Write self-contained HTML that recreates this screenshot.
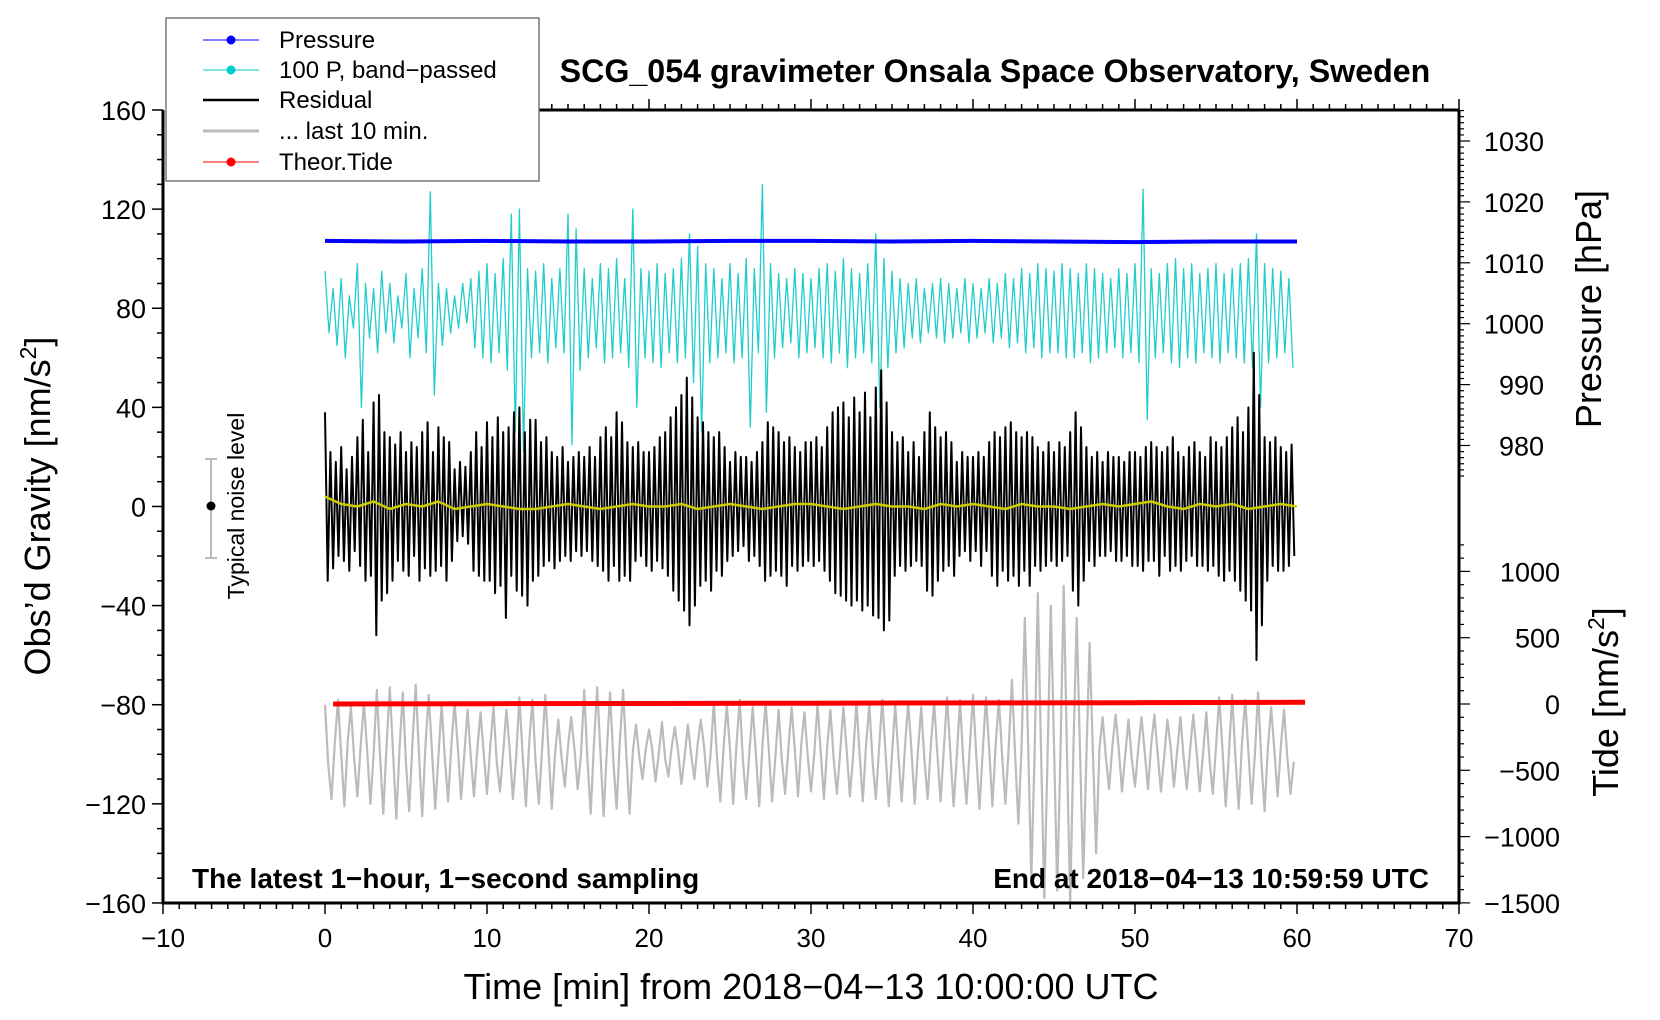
<!DOCTYPE html>
<html><head><meta charset="utf-8"><style>
html,body{margin:0;padding:0;background:#fff;}
svg{display:block;font-family:"Liberation Sans",sans-serif;}
</style></head><body>
<svg id="chart" width="1660" height="1020" viewBox="0 0 1660 1020" xmlns="http://www.w3.org/2000/svg">
<defs><clipPath id="plotclip"><rect x="163" y="110" width="1296" height="793"/></clipPath></defs>
<rect width="1660" height="1020" fill="#fff"/>
<g id="series" clip-path="url(#plotclip)"></g>
<g id="axes"></g>
<text x="995" y="82" font-size="32.2" font-weight="bold" text-anchor="middle">SCG_054 gravimeter Onsala Space Observatory, Sweden</text>
<text x="192" y="888" font-size="28" font-weight="bold">The latest 1−hour, 1−second sampling</text>
<text x="1429" y="888" font-size="28" font-weight="bold" text-anchor="end">End at 2018−04−13 10:59:59 UTC</text>
<text x="811" y="999" font-size="36" text-anchor="middle">Time [min] from 2018−04−13 10:00:00 UTC</text>
<text transform="translate(50,506) rotate(-90)" font-size="36" text-anchor="middle">Obs’d Gravity [nm/s<tspan dy="-14" font-size="23">2</tspan><tspan dy="14">]</tspan></text>
<text transform="translate(1601,309) rotate(-90)" font-size="36" text-anchor="middle">Pressure [hPa]</text>
<text transform="translate(1618,702) rotate(-90)" font-size="36" text-anchor="middle">Tide [nm/s<tspan dy="-14" font-size="23">2</tspan><tspan dy="14">]</tspan></text>
<g>
<line x1="211" y1="459" x2="211" y2="558" stroke="#bbb" stroke-width="2"/>
<line x1="205" y1="459" x2="217" y2="459" stroke="#bbb" stroke-width="2"/>
<line x1="205" y1="558" x2="217" y2="558" stroke="#bbb" stroke-width="2"/>
<circle cx="211" cy="506" r="4.5" fill="#000"/>
<text transform="translate(244,506) rotate(-90)" font-size="23" text-anchor="middle">Typical noise level</text>
</g>
<g>
<rect x="166" y="18" width="373" height="163" fill="#fff" stroke="#777" stroke-width="1.5"/>
<g><line x1="203" y1="40" x2="259" y2="40" stroke="#00f" stroke-width="1"/><circle cx="231" cy="40" r="4.5" fill="#00f"/><text x="279" y="48" font-size="24">Pressure</text></g>
<g><line x1="203" y1="70" x2="259" y2="70" stroke="#0cc" stroke-width="1"/><circle cx="231" cy="70" r="4.5" fill="#0cc"/><text x="279" y="78" font-size="24">100 P, band−passed</text></g>
<g><line x1="203" y1="100" x2="259" y2="100" stroke="#000" stroke-width="2.5"/><text x="279" y="108" font-size="24">Residual</text></g>
<g><line x1="203" y1="131" x2="259" y2="131" stroke="#bbb" stroke-width="3"/><text x="279" y="139" font-size="24">... last 10 min.</text></g>
<g><line x1="203" y1="162" x2="259" y2="162" stroke="#f00" stroke-width="1"/><circle cx="231" cy="162" r="4.5" fill="#f00"/><text x="279" y="170" font-size="24">Theor.Tide</text></g>
</g>
</svg>
<script>
// ---- data ----
const xTicks = [-10,0,10,20,30,40,50,60,70];
const gTicks = [160,120,80,40,0,-40,-80,-120,-160];
const gTickLabels = ["160","120","80","40","0","−40","−80","−120","−160"];
const pTicks = [1030,1020,1010,1000,990,980];
const tTicks = [1000,500,0,-500,-1000,-1500];
const tTickLabels = ["1000","500","0","−500","−1000","−1500"];
const residualStep = 1/6;
const residual = [38,-30,22,-25,18,-20,24,-22,15,-26,20,-18,28,-24,35,-30,22,-28,42,-52,45,-38,30,-35,28,-30,25,-22,30,-26,22,-28,26,-20,24,-30,30,-25,34,-28,22,-26,32,-24,28,-30,26,-22,15,-14,18,-12,16,-15,22,-26,30,-28,24,-30,34,-30,28,-35,36,-32,30,-45,32,-28,38,-34,40,-36,30,-40,35,-30,35,-28,26,-24,28,-22,22,-25,20,-22,24,-20,18,-22,20,-18,22,-20,20,-18,24,-22,20,-24,28,-26,32,-30,28,-24,38,-30,34,-28,26,-30,24,-22,26,-20,22,-24,22,-26,24,-22,28,-25,30,-28,36,-34,40,-38,45,-42,52,-48,44,-40,36,-32,34,-30,30,-34,28,-26,30,-28,24,-22,18,-20,22,-18,20,-16,20,-22,18,-20,22,-24,26,-30,34,-28,32,-26,30,-28,26,-32,28,-24,24,-26,22,-24,26,-22,26,-24,28,-22,24,-26,32,-30,38,-35,40,-36,42,-38,36,-40,44,-38,38,-42,46,-40,36,-44,48,-45,55,-50,42,-46,30,-28,26,-24,28,-26,22,-24,26,-22,20,-24,30,-34,38,-36,32,-30,28,-26,30,-24,26,-28,18,-20,22,-18,20,-22,20,-18,22,-24,20,-18,26,-28,30,-32,28,-26,32,-30,34,-28,30,-32,28,-26,30,-32,28,-24,24,-26,22,-24,26,-22,22,-24,26,-22,24,-20,30,-34,38,-40,32,-30,24,-22,20,-24,22,-20,18,-20,22,-18,20,-22,20,-22,18,-20,22,-24,22,-24,20,-26,24,-22,26,-22,24,-28,22,-20,24,-26,28,-24,22,-26,20,-22,24,-20,26,-24,22,-24,20,-26,28,-24,26,-28,24,-30,28,-26,32,-30,36,-34,30,-38,40,-42,62,-62,45,-48,28,-30,26,-24,28,-26,24,-26,22,-24,25,-20];
const bandStep = 0.25;
const bandPassed = [95,70,88,65,92,60,85,72,98,40,90,68,88,62,95,70,90,66,85,72,94,60,88,68,96,62,127,45,90,65,88,70,85,72,90,74,92,64,95,60,98,58,94,62,100,55,118,30,120,22,96,60,95,62,98,58,92,64,96,62,118,25,112,55,96,60,92,64,98,58,96,60,100,62,92,56,120,40,96,60,95,58,98,56,94,62,96,58,100,60,110,50,105,30,98,58,96,60,92,62,98,58,94,60,100,32,96,62,130,38,98,60,94,64,92,66,96,60,94,62,92,64,96,60,98,58,95,62,100,56,96,60,94,62,98,58,110,40,100,56,95,62,92,64,90,68,92,66,88,70,90,68,92,66,90,68,88,70,92,66,90,68,88,70,92,66,90,68,94,64,92,66,96,62,94,64,98,60,96,62,95,62,98,60,96,60,94,62,98,58,96,60,94,62,92,64,96,60,94,62,98,58,128,35,96,60,94,62,98,58,100,56,96,60,98,58,94,62,96,60,98,58,94,62,96,60,98,58,100,56,110,40,98,58,96,60,95,62,92,56];
const lastStep = 0.2;
const last10 = [-80,-104,-118,-96,-78,-100,-121,-95,-81,-102,-117,-97,-79,-98,-120,-100,-74,-101,-124,-96,-73,-99,-126,-98,-75,-104,-123,-95,-72,-100,-125,-97,-76,-98,-122,-101,-80,-102,-119,-96,-79,-97,-118,-100,-82,-101,-117,-98,-83,-100,-116,-97,-81,-103,-115,-99,-82,-98,-118,-101,-77,-100,-121,-96,-78,-103,-120,-98,-76,-99,-122,-100,-86,-101,-113,-97,-85,-98,-114,-100,-74,-102,-124,-96,-73,-99,-125,-98,-75,-103,-122,-95,-74,-100,-124,-99,-88,-101,-110,-98,-90,-98,-111,-100,-87,-102,-109,-97,-89,-99,-112,-101,-88,-100,-110,-96,-86,-97,-113,-100,-79,-101,-119,-98,-80,-98,-120,-96,-78,-103,-118,-99,-81,-100,-121,-97,-79,-99,-119,-101,-82,-102,-116,-98,-81,-98,-117,-96,-83,-101,-115,-100,-80,-99,-118,-97,-82,-102,-116,-99,-81,-98,-117,-101,-79,-100,-119,-96,-80,-103,-118,-98,-78,-99,-121,-100,-80,-101,-119,-97,-79,-98,-120,-99,-81,-102,-118,-96,-79,-100,-119,-98,-77,-99,-121,-101,-78,-103,-120,-97,-76,-100,-122,-99,-77,-98,-121,-96,-78,-101,-120,-98,-70,-100,-128,-97,-45,-95,-150,-100,-35,-98,-158,-102,-40,-96,-155,-99,-32,-100,-160,-98,-45,-97,-150,-101,-55,-99,-140,-98,-85,-101,-114,-97,-84,-98,-115,-100,-86,-102,-113,-98,-85,-99,-114,-96,-84,-100,-115,-101,-86,-97,-113,-99,-85,-101,-114,-98,-84,-99,-115,-100,-83,-102,-116,-97,-77,-98,-121,-99,-76,-101,-122,-96,-78,-99,-120,-100,-75,-103,-123,-98,-81,-98,-117,-97,-82,-101,-116,-103];
const smoothStep = 1;
const smoothed = [4,1,0,2,-1,1,0,2,-1,0,1,0,-1,-1,0,1,0,-1,0,1,0,0,1,-1,0,1,0,-1,0,1,1,0,-1,0,1,0,0,-1,1,0,1,0,-1,1,0,0,-1,0,1,0,1,2,0,-1,1,0,1,-1,0,1,0];
const pressureTimes = [0,5,10,15,20,25,30,35,40,45,50,55,60];
const pressure = [1013.6,1013.5,1013.6,1013.5,1013.5,1013.6,1013.6,1013.5,1013.6,1013.5,1013.4,1013.5,1013.5];
const tideTimes = [0.5,10,20,30,40,50,60.5];
const tide = [0,2,4,6,8,10,13];

// ---- axis functions ----
const X = t => 163 + (t + 10) * 16.2;
const YG = g => 110 + (160 - g) * 2.478;
const YP = p => 141 + (1030 - p) * 6.09;
const YT = v => 704 - v * 0.1326;

const NS = "http://www.w3.org/2000/svg";
const series = document.getElementById('series');
const axes = document.getElementById('axes');
function mk(tag, parent){ const e = document.createElementNS(NS, tag); parent.appendChild(e); return e; }
function polyline(parent, pts, color, w){
  const p = mk('polyline', parent);
  p.setAttribute('points', pts.map(q => q[0].toFixed(1)+','+q[1].toFixed(1)).join(' '));
  p.setAttribute('fill','none'); p.setAttribute('stroke',color); p.setAttribute('stroke-width',w);
  p.setAttribute('stroke-linejoin','round');
  return p;
}

let l = polyline(series, bandPassed.map((v,i)=>[X(i*bandStep), YG(v)]), '#22cccc', 1.3);


l = polyline(series, pressure.map((v,i)=>[X(pressureTimes[i]), YP(v)]), '#0000ff', 4);


l = polyline(series, residual.map((v,i)=>[X(i*residualStep), YG(v)]), '#000', 2);


l = polyline(series, smoothed.map((v,i)=>[X(i*smoothStep), YG(v)]), '#cccc00', 2.5);


l = polyline(series, last10.map((v,i)=>[X(i*lastStep), YG(v)]), '#bbbbbb', 2.2);


l = polyline(series, tide.map((v,i)=>[X(tideTimes[i]), YT(v)]), '#ff0000', 5);



// ---- axes ----
function line(x1,y1,x2,y2,w){ const e = mk('line', axes); e.setAttribute('x1',x1); e.setAttribute('y1',y1); e.setAttribute('x2',x2); e.setAttribute('y2',y2); e.setAttribute('stroke','#000'); e.setAttribute('stroke-width',w); return e; }
function text(x,y,s,anchor,size){ const e = mk('text', axes); e.setAttribute('x',x); e.setAttribute('y',y); e.setAttribute('font-size',size); e.setAttribute('text-anchor',anchor); e.textContent = s; return e; }
const L=163,R=1459,T=110,B=903;
let fr = mk('path', axes);
fr.setAttribute('d', `M${L},${T} V${B} H${R} V${T}`);
fr.setAttribute('fill','none'); fr.setAttribute('stroke','#000'); fr.setAttribute('stroke-width',3);


let topLine = line(539,T,R,T,3);


for(let t=-10;t<=70;t++){
  const major = t%10===0;
  line(X(t),B,X(t),B+(major?11:6),1.5);
  if(X(t)>539) line(X(t),T,X(t),T-(major?11:6),1.5);
}
xTicks.forEach(t=>{ const e = text(X(t), B+44, String(t).replace('-','−'), 'middle', 26);
  
   });
for(let g=-160; g<=160; g+=10){ line(L,YG(g),L-(g%40===0?11:6),YG(g),1.5); }
gTicks.forEach((g,i)=>{ const e = text(L-17, YG(g)+10, gTickLabels[i], 'end', 27);
  
   });
for(let p=1035;p>=975;p--){ line(R,YP(p),R+(p%10===0?11:5),YP(p),1.2); }
pTicks.forEach(p=>{ const e = text(R+85, YP(p)+10, String(p), 'end', 27);
  
   });
for(let v=1200; v>=-1500; v-=100){ line(R,YT(v),R+(v%500===0?11:5),YT(v),1.2); }
tTicks.forEach((v,i)=>{ const e = text(R+101, YT(v)+10, tTickLabels[i], 'end', 27);
  
   });
</script>
</body></html>
